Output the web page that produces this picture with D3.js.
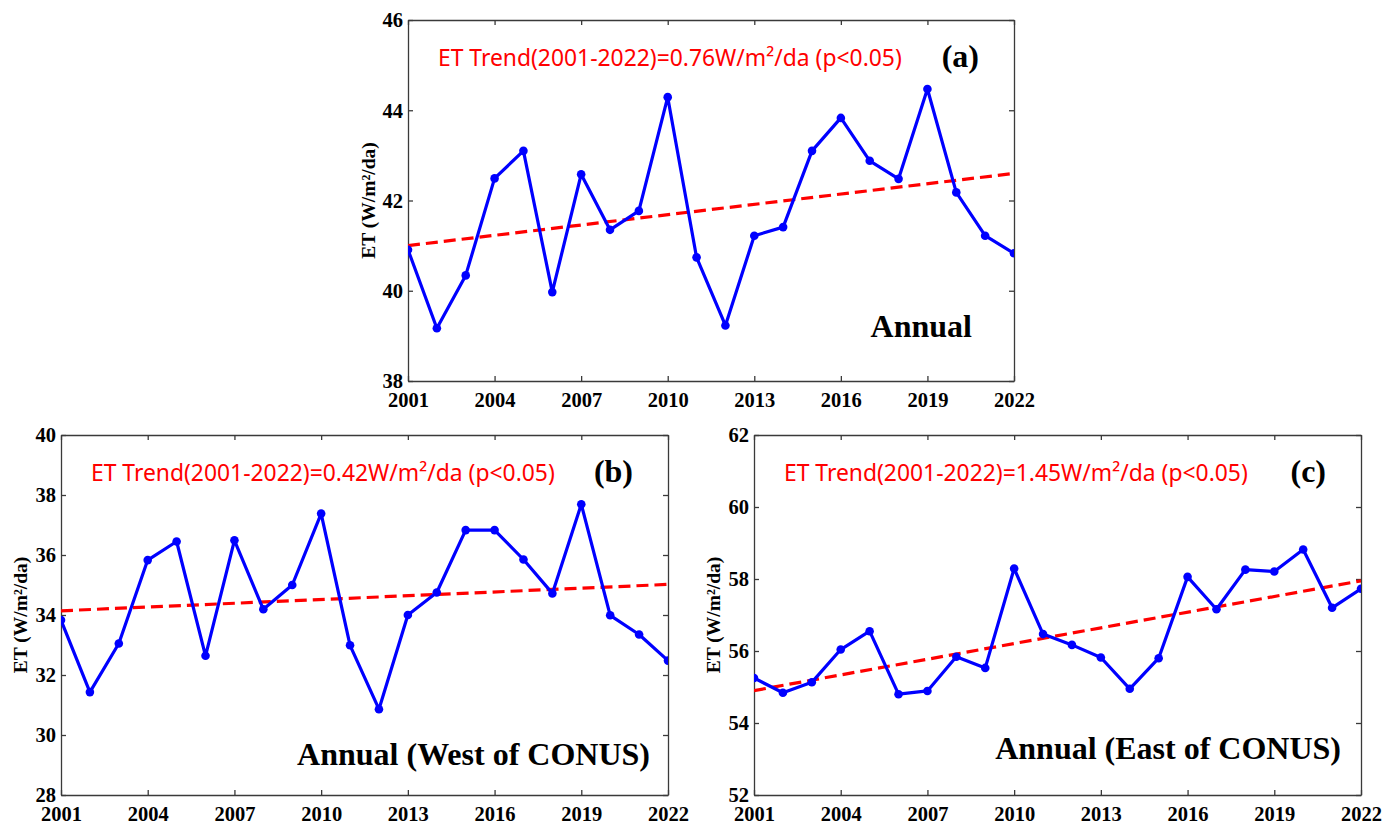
<!DOCTYPE html>
<html>
<head>
<meta charset="utf-8">
<script src="https://cdn.jsdelivr.net/npm/d3@7/dist/d3.min.js"></script>
<style>
  html, body { margin: 0; padding: 0; background: #fff; }
  svg { display: block; }
</style>
</head>
<body>
<svg id="chart" width="1397" height="826"></svg>
<script>
// ---------------- DATA ----------------
const years = [2001, 2002, 2003, 2004, 2005, 2006, 2007, 2008, 2009, 2010, 2011,
               2012, 2013, 2014, 2015, 2016, 2017, 2018, 2019, 2020, 2021, 2022];
const xTickYears = [2001, 2004, 2007, 2010, 2013, 2016, 2019, 2022];

const etAnnual = [40.91, 39.17, 40.34, 42.49, 43.10, 39.97, 42.58, 41.35, 41.77, 44.29, 40.74,
                  39.23, 41.22, 41.41, 43.10, 43.83, 42.88, 42.48, 44.47, 42.18, 41.22, 40.83];
const etWest   = [33.83, 31.43, 33.05, 35.83, 36.45, 32.64, 36.49, 34.19, 35.00, 37.38, 32.99,
                  30.86, 34.00, 34.75, 36.83, 36.83, 35.85, 34.72, 37.69, 33.99, 33.35, 32.48];
const etEast   = [55.25, 54.84, 55.13, 56.04, 56.55, 54.80, 54.89, 55.84, 55.53, 58.29, 56.47,
                  56.17, 55.82, 54.95, 55.80, 58.06, 57.16, 58.26, 58.21, 58.82, 57.20, 57.73];

// trend line values at 2001 and 2022
const trendAnnual = [41.00, 42.60];
const trendWest   = [34.14, 35.02];
const trendEast   = [54.90, 57.95];

const ticksAnnual = [38, 40, 42, 44, 46];
const ticksWest   = [28, 30, 32, 34, 36, 38, 40];
const ticksEast   = [52, 54, 56, 58, 60, 62];

const trendTexts = [
  "ET Trend(2001-2022)=0.76W/m²/da (p<0.05)",
  "ET Trend(2001-2022)=0.42W/m²/da (p<0.05)",
  "ET Trend(2001-2022)=1.45W/m²/da (p<0.05)"
];
const panelLabels = ["(a)", "(b)", "(c)"];
const regionLabels = ["Annual", "Annual (West of CONUS)", "Annual (East of CONUS)"];
const yTitle = "ET (W/m²/da)";

// ---------------- LAYOUT ----------------
const layouts = [
  { left: 408, right: 1014, top: 20,  bottom: 381, titleX: 368, regionRight: 972,  regionBase: 337 },
  { left: 61,  right: 668,  top: 435, bottom: 795, titleX: 20,  regionRight: 650,  regionBase: 765 },
  { left: 754, right: 1361, top: 435, bottom: 795, titleX: 713, regionRight: 1341, regionBase: 759 }
];
const seriesList = [etAnnual, etWest, etEast];
const trendList = [trendAnnual, trendWest, trendEast];
const tickList = [ticksAnnual, ticksWest, ticksEast];

const serif = "'Liberation Serif', 'Times New Roman', serif";
const sans = "'Noto Sans', 'Open Sans', sans-serif";
const axisColor = "#3a3a3a";

const svg = d3.select("#chart");

layouts.forEach((L, i) => {
  const ticks = tickList[i];
  const x = d3.scaleLinear().domain([years[0], years[years.length - 1]]).range([L.left, L.right]);
  const y = d3.scaleLinear().domain([ticks[0], ticks[ticks.length - 1]]).range([L.bottom, L.top]);
  const g = svg.append("g");

  const clipId = "clip" + i;
  svg.append("clipPath").attr("id", clipId)
    .append("rect").attr("x", L.left).attr("y", L.top)
    .attr("width", L.right - L.left).attr("height", L.bottom - L.top);

  // axes with inside ticks (mirrored)
  const tl = 5;
  const axB = d3.axisBottom(x).tickValues(xTickYears).tickFormat(d3.format("d")).tickSizeInner(-tl).tickSizeOuter(0).tickPadding(10);
  const axT = d3.axisTop(x).tickValues(xTickYears).tickFormat("").tickSizeInner(-tl).tickSizeOuter(0);
  const axL = d3.axisLeft(y).tickValues(ticks).tickFormat(d3.format("d")).tickSizeInner(-tl).tickSizeOuter(0).tickPadding(5);
  const axR = d3.axisRight(y).tickValues(ticks).tickFormat("").tickSizeInner(-tl).tickSizeOuter(0);

  const styleAxis = sel => {
    sel.selectAll("path").attr("stroke", axisColor).attr("stroke-width", 1.3);
    sel.selectAll("line").attr("stroke", axisColor).attr("stroke-width", 1.3);
    sel.selectAll("text").attr("font-family", serif).attr("font-weight", "bold")
      .attr("font-size", 20.5).attr("fill", "#000");
  };
  g.append("g").attr("transform", `translate(0,${L.bottom})`).call(axB).call(styleAxis)
    .selectAll("text").attr("dy", "0.71em").attr("y", 11);
  g.append("g").attr("transform", `translate(0,${L.top})`).call(axT).call(styleAxis);
  g.append("g").attr("transform", `translate(${L.left},0)`).call(axL).call(styleAxis)
    .selectAll("text").attr("dy", "0.34em");
  g.append("g").attr("transform", `translate(${L.right},0)`).call(axR).call(styleAxis);

  // y title
  g.append("text")
    .attr("transform", `translate(${L.titleX},${(L.top + L.bottom) / 2}) rotate(-90)`)
    .attr("text-anchor", "middle").attr("dy", "0.35em")
    .attr("font-family", serif).attr("font-weight", "bold").attr("font-size", 19.5)
    .text(yTitle);

  const plot = g.append("g").attr("clip-path", `url(#${clipId})`);

  // trend line
  const tr = trendList[i];
  plot.append("line")
    .attr("x1", x(years[0])).attr("y1", y(tr[0]))
    .attr("x2", x(years[years.length - 1])).attr("y2", y(tr[1]))
    .attr("stroke", "#ff0000").attr("stroke-width", 3.2)
    .attr("stroke-dasharray", "12,6");

  // series line
  const vals = seriesList[i];
  const data = years.map((yr, k) => ({ yr, v: vals[k] }));
  plot.append("path").datum(data)
    .attr("fill", "none").attr("stroke", "#0000ff").attr("stroke-width", 3.2)
    .attr("stroke-linejoin", "round")
    .attr("d", d3.line().x(d => x(d.yr)).y(d => y(d.v)));
  plot.selectAll("circle.pt").data(data).join("circle")
    .attr("class", "pt")
    .attr("cx", d => x(d.yr)).attr("cy", d => y(d.v)).attr("r", 4.3)
    .attr("fill", "#0000ff");

  // trend text
  const tt = g.append("text")
    .attr("x", L.left + 30).attr("y", L.top + 46)
    .attr("font-family", sans).attr("font-size", 21).attr("fill", "#ff0000")
    .text(trendTexts[i]);
  const w = tt.node().getComputedTextLength();
  tt.attr("font-size", 21 * 464 / w);

  // panel label
  g.append("text")
    .attr("x", L.right - 35).attr("y", L.top + 47)
    .attr("text-anchor", "end")
    .attr("font-family", serif).attr("font-weight", "bold").attr("font-size", 32)
    .text(panelLabels[i]);

  // region label
  g.append("text")
    .attr("x", L.regionRight).attr("y", L.regionBase)
    .attr("text-anchor", "end")
    .attr("font-family", serif).attr("font-weight", "bold").attr("font-size", 32)
    .text(regionLabels[i]);
});
</script>
</body>
</html>
